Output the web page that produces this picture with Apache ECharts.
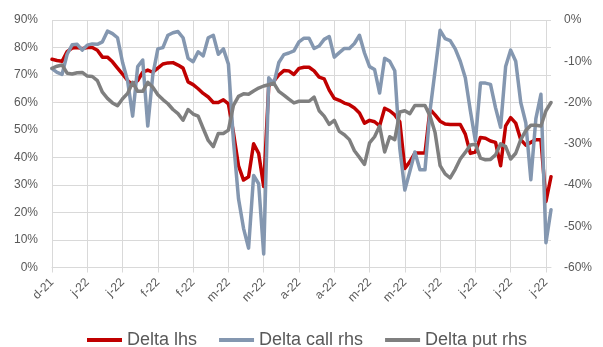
<!DOCTYPE html>
<html>
<head>
<meta charset="utf-8">
<script src="https://cdn.jsdelivr.net/npm/echarts@6/dist/echarts.min.js"></script>
<style>
  html, body { margin: 0; padding: 0; background: #ffffff; }
  #chart { width: 603px; height: 347px; }
</style>
</head>
<body>
<div id="chart"></div>
<script>
// Axis labels shown every two weeks
const tickLabels = ['d-21', 'j-22', 'j-22', 'f-22', 'f-22', 'm-22', 'm-22', 'a-22', 'a-22', 'm-22', 'm-22', 'j-22', 'j-22', 'j-22', 'j-22'];
const pointsPerTick = 7;

// Delta (left axis, %)
const deltaLhs = [
  75.7, 75.3, 75.0, 78.5, 79.8, 80.0, 79.6, 80.0, 80.0, 79.0,
  76.5, 76.5, 74.8, 72.5, 70.3, 68.0, 66.4, 68.0, 71.0, 71.8,
  71.0, 72.5, 74.0, 74.4, 74.5, 73.6, 72.5, 67.5, 66.5, 65.0,
  63.3, 62.0, 60.0, 60.0, 61.0, 59.5, 49.0, 37.0, 31.8, 33.0,
  45.0, 41.5, 29.5, 66.0, 67.8, 70.0, 71.6, 71.5, 70.2, 72.4,
  72.8, 72.8, 71.5, 69.2, 68.6, 64.5, 61.5, 60.8, 59.8, 59.2,
  58.0, 56.2, 52.5, 53.5, 53.0, 51.5, 57.9, 57.0, 55.5, 53.0,
  36.0, 38.5, 41.6, 41.6, 41.6, 57.5, 55.5, 53.2, 52.2, 52.0,
  52.0, 52.0, 48.5, 41.5, 42.0, 47.3, 47.0, 46.0, 45.5, 37.0,
  51.5, 54.5, 52.5, 46.5, 44.5, 45.5, 46.5, 46.5, 24.0, 33.0
];

// Delta call (right axis, %)
const deltaCallRhs = [
  -11.8, -12.7, -13.2, -8.3, -6.0, -5.9, -7.3, -6.1, -5.8, -5.9,
  -5.3, -2.7, -3.3, -4.3, -10.3, -14.7, -23.3, -11.3, -9.7, -25.7,
  -13.3, -7.0, -6.7, -3.7, -3.1, -2.8, -4.3, -9.3, -10.1, -7.7,
  -8.7, -4.3, -3.7, -8.3, -7.0, -10.7, -29.3, -43.3, -50.5, -55.3,
  -37.7, -39.7, -56.7, -14.0, -15.5, -10.3, -8.4, -8.0, -7.5, -5.3,
  -4.4, -4.4, -6.9, -6.3, -4.7, -4.0, -9.0, -7.9, -6.9, -6.9,
  -5.7, -3.7, -8.0, -11.3, -12.0, -17.7, -9.3, -10.0, -12.3, -31.1,
  -41.2, -36.7, -32.0, -36.3, -36.3, -22.0, -12.3, -2.5, -4.5, -5.0,
  -7.0, -10.0, -14.0, -22.0, -29.3, -15.3, -15.3, -15.6, -21.3, -26.0,
  -11.3, -7.3, -10.0, -20.0, -24.9, -38.7, -23.9, -18.0, -54.0, -46.0
];

// Delta put (right axis, %)
const deltaPutRhs = [
  -11.7, -11.2, -10.9, -12.9, -13.1, -12.8, -12.7, -13.6, -13.7, -14.7,
  -17.5, -19.0, -20.1, -20.8, -19.1, -17.8, -15.1, -17.3, -17.3, -15.1,
  -16.3, -18.1, -19.3, -20.3, -21.7, -22.7, -24.3, -21.7, -22.8, -23.3,
  -26.3, -29.2, -30.7, -27.5, -27.5, -26.7, -20.7, -18.5, -17.9, -18.0,
  -17.2, -16.5, -16.0, -15.7, -15.3, -17.3, -18.2, -19.2, -20.1, -19.7,
  -19.7, -19.7, -18.7, -22.0, -23.3, -25.3, -24.3, -27.0, -27.8, -29.0,
  -31.7, -33.3, -35.0, -29.8, -28.3, -25.7, -32.0, -28.3, -29.0, -22.3,
  -22.0, -22.7, -20.7, -20.7, -20.7, -23.3, -27.3, -35.3, -37.3, -38.3,
  -36.2, -33.7, -32.1, -30.3, -30.1, -33.5, -33.9, -33.8, -32.7, -30.0,
  -30.7, -33.7, -32.3, -29.0, -26.8, -25.5, -25.5, -25.7, -22.0, -20.0
];

// One category per observation; only every seventh one carries a tick label
const categories = deltaLhs.map((_, i) => String(i));
const isTick = (index) => index % pointsPerTick === 0 && index / pointsPerTick < tickLabels.length;

const labelColor = '#595959';
const gridColor = '#d9d9d9';
const fontFamily = 'Liberation Sans, Arial, sans-serif';

const chart = echarts.init(document.getElementById('chart'), null, { renderer: 'canvas' });
chart.setOption({
  backgroundColor: '#ffffff',
  animation: false,
  grid: { left: 52, right: 52, top: 20, bottom: 79.5, containLabel: false },
  legend: {
    top: 326,
    left: 82,
    itemGap: 22,
    itemWidth: 35,
    itemHeight: 4,
    icon: 'rect',
    textStyle: { color: labelColor, fontSize: 18, fontFamily: fontFamily },
    data: ['Delta lhs', 'Delta call rhs', 'Delta put rhs']
  },
  xAxis: {
    type: 'category',
    data: categories,
    boundaryGap: false,
    axisLine: { lineStyle: { color: gridColor, width: 1 } },
    axisTick: { show: true, interval: isTick, length: 5, lineStyle: { color: gridColor } },
    axisLabel: {
      interval: isTick,
      rotate: 45,
      margin: 13,
      color: labelColor,
      fontSize: 12,
      fontFamily: fontFamily,
      hideOverlap: false,
      formatter: (value) => tickLabels[Math.round(Number(value) / pointsPerTick)] || ''
    },
    splitLine: { show: true, interval: isTick, lineStyle: { color: gridColor, width: 1 } }
  },
  yAxis: [
    {
      type: 'value',
      min: 0, max: 90, interval: 10,
      axisLine: { show: false },
      axisTick: { show: false },
      axisLabel: { formatter: '{value}%', color: labelColor, fontSize: 12, fontFamily: fontFamily, margin: 14 },
      splitLine: { show: true, lineStyle: { color: gridColor, width: 1 } }
    },
    {
      type: 'value',
      min: -60, max: 0, interval: 10,
      position: 'right',
      axisLine: { show: false },
      axisTick: { show: false },
      axisLabel: { formatter: '{value}%', color: labelColor, fontSize: 12, fontFamily: fontFamily, margin: 13 },
      splitLine: { show: false }
    }
  ],
  series: [
    {
      name: 'Delta lhs', type: 'line', yAxisIndex: 0, data: deltaLhs,
      showSymbol: false, symbol: 'none', smooth: false, z: 2,
      itemStyle: { color: '#C00000' },
      lineStyle: { color: '#C00000', width: 3.5, join: 'round', cap: 'round' }
    },
    {
      name: 'Delta call rhs', type: 'line', yAxisIndex: 1, data: deltaCallRhs,
      showSymbol: false, symbol: 'none', smooth: false, z: 3,
      itemStyle: { color: '#8497B0' },
      lineStyle: { color: '#8497B0', width: 3.5, join: 'round', cap: 'round' }
    },
    {
      name: 'Delta put rhs', type: 'line', yAxisIndex: 1, data: deltaPutRhs,
      showSymbol: false, symbol: 'none', smooth: false, z: 4,
      itemStyle: { color: '#7F7F7F' },
      lineStyle: { color: '#7F7F7F', width: 3.5, join: 'round', cap: 'round' }
    }
  ]
});
</script>
</body>
</html>
